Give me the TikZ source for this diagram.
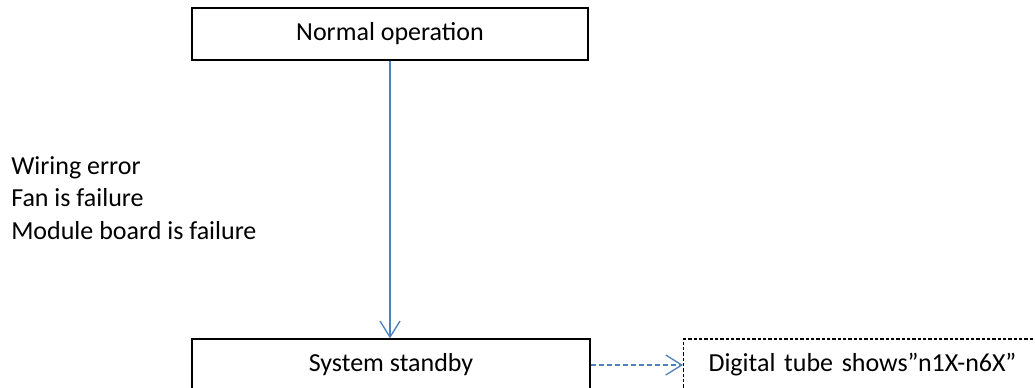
\documentclass[tikz,border=0pt]{standalone}
\usepackage{fontspec}
\setmainfont{Carlito}
\usetikzlibrary{arrows.meta}
\definecolor{linkblue}{RGB}{79,129,189}
\tikzset{
  stepbox/.style={draw=black,line width=1pt,rectangle,font=\fontsize{19.5}{23}\selectfont},
  tubebox/.style={draw=black,line width=0.8pt,dash pattern=on 2.5pt off 1.5pt,rectangle,font=\fontsize{19.5}{23}\selectfont},
  flow/.style={draw=linkblue,line width=1pt,-{Straight Barb[length=12pt,width=15pt]}}
}
\begin{document}
\begin{tikzpicture}[x=0.75pt,y=-0.75pt]
\useasboundingbox (0,0) rectangle (1035,387);
\node[stepbox,minimum width=297pt,minimum height=39pt] (normal) at (390,34) {Normal operation};
\node[stepbox,minimum width=298.5pt,minimum height=39pt] (standby) at (391,365) {System standby};
\node[tubebox,anchor=west,minimum height=39pt,text width=262pt,inner xsep=18.75pt,align=left] (tube) at (683,365) {Digital tube shows”n1X-n6X”};
\node[anchor=west,inner sep=0pt,align=left,font=\fontsize{19.5}{24.4}\selectfont] (causes) at (11,198) {Wiring error\\Fan is failure\\Module board is failure};
\draw[flow] (normal.south -| 390,0) -- (standby.north -| 390,0);
\draw[flow,dash pattern=on 4pt off 2pt] (standby.east) -- (tube.west);
\end{tikzpicture}
\end{document}
